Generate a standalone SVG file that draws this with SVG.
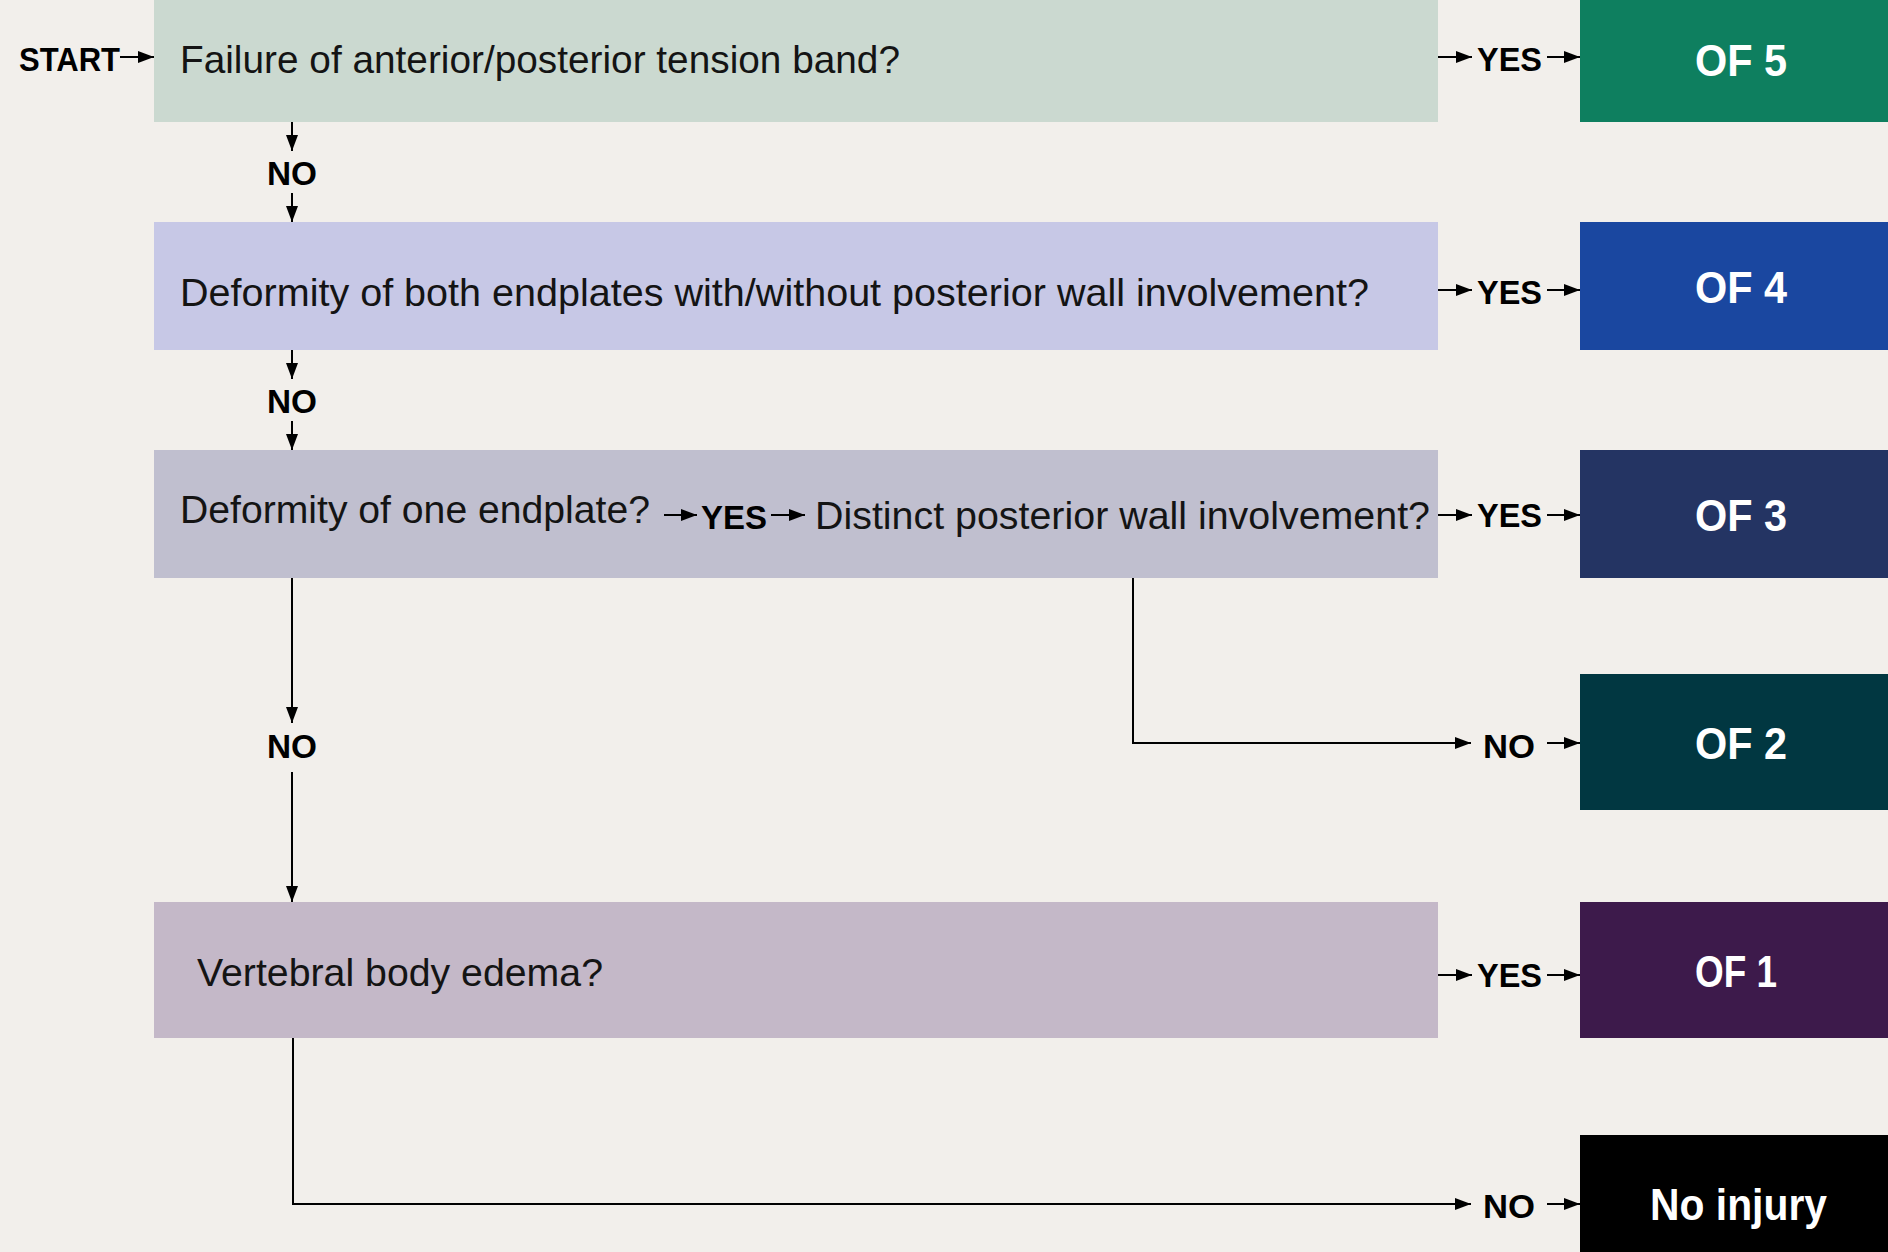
<svg xmlns="http://www.w3.org/2000/svg" width="1888" height="1252" viewBox="0 0 1888 1252">
  <style>
    .q { font-family: "Liberation Sans", Arial, sans-serif; font-size: 39px; fill: #141414; }
    .lbl { font-family: "Liberation Sans", Arial, sans-serif; font-size: 33px; font-weight: bold; fill: #000; }
    .res { font-family: "Liberation Sans", Arial, sans-serif; font-size: 45px; font-weight: bold; fill: #ffffff; }
    .conn { stroke: #000; stroke-width: 2; fill: none; }
  </style>
  <defs>
    <marker id="ah" markerUnits="userSpaceOnUse" markerWidth="16" markerHeight="12" refX="16" refY="6" orient="auto">
      <path d="M0,0 L16,6 L0,12 z" fill="#000"/>
    </marker>
  </defs>
  <rect x="0" y="0" width="1888" height="1252" fill="#F2EFEB"/>

  <g id="start">
    <text class="lbl" x="19" y="71" textLength="101" lengthAdjust="spacingAndGlyphs">START</text>
  </g>

  <g id="q1">
    <rect x="154" y="0" width="1284" height="122" fill="#CBD9D0"/>
    <text class="q" x="180" y="73" textLength="720" lengthAdjust="spacingAndGlyphs">Failure of anterior/posterior tension band?</text>
  </g>
  <g id="q2">
    <rect x="154" y="222" width="1284" height="128" fill="#C7C8E6"/>
    <text class="q" x="180" y="306" textLength="1189" lengthAdjust="spacingAndGlyphs">Deformity of both endplates with/without posterior wall involvement?</text>
  </g>
  <g id="q3">
    <rect x="154" y="450" width="1284" height="128" fill="#C0BFCF"/>
    <text class="q" x="180" y="523" textLength="470" lengthAdjust="spacingAndGlyphs">Deformity of one endplate?</text>
    <text class="lbl" x="701" y="529" textLength="66" lengthAdjust="spacingAndGlyphs">YES</text>
    <text class="q" x="815" y="529" textLength="615" lengthAdjust="spacingAndGlyphs">Distinct posterior wall involvement?</text>
  </g>
  <g id="q4">
    <rect x="154" y="902" width="1284" height="136" fill="#C4B8C8"/>
    <text class="q" x="197" y="986" textLength="406" lengthAdjust="spacingAndGlyphs">Vertebral body edema?</text>
  </g>

  <g id="of5">
    <rect x="1580" y="0" width="308" height="122" fill="#0E7F5F"/>
    <text class="res" x="1695" y="76" textLength="92" lengthAdjust="spacingAndGlyphs">OF 5</text>
  </g>
  <g id="of4">
    <rect x="1580" y="222" width="308" height="128" fill="#1A47A0"/>
    <text class="res" x="1695" y="303" textLength="92" lengthAdjust="spacingAndGlyphs">OF 4</text>
  </g>
  <g id="of3">
    <rect x="1580" y="450" width="308" height="128" fill="#243463"/>
    <text class="res" x="1695" y="531" textLength="92" lengthAdjust="spacingAndGlyphs">OF 3</text>
  </g>
  <g id="of2">
    <rect x="1580" y="674" width="308" height="136" fill="#013741"/>
    <text class="res" x="1695" y="759" textLength="92" lengthAdjust="spacingAndGlyphs">OF 2</text>
  </g>
  <g id="of1">
    <rect x="1580" y="902" width="308" height="136" fill="#3D1A4B"/>
    <text class="res" x="1695" y="987" textLength="82" lengthAdjust="spacingAndGlyphs">OF 1</text>
  </g>
  <g id="noinjury">
    <rect x="1580" y="1135" width="308" height="117" fill="#000000"/>
    <text class="res" x="1650" y="1220" font-size="42" textLength="177" lengthAdjust="spacingAndGlyphs">No injury</text>
  </g>

  <g id="labels">
    <text class="lbl" x="1477" y="71" textLength="65" lengthAdjust="spacingAndGlyphs">YES</text>
    <text class="lbl" x="1477" y="304" textLength="65" lengthAdjust="spacingAndGlyphs">YES</text>
    <text class="lbl" x="1477" y="527" textLength="65" lengthAdjust="spacingAndGlyphs">YES</text>
    <text class="lbl" x="1477" y="987" textLength="65" lengthAdjust="spacingAndGlyphs">YES</text>
    <text class="lbl" x="1483" y="758" textLength="52" lengthAdjust="spacingAndGlyphs">NO</text>
    <text class="lbl" x="1483" y="1218" textLength="52" lengthAdjust="spacingAndGlyphs">NO</text>
    <text class="lbl" x="267" y="185" textLength="50" lengthAdjust="spacingAndGlyphs">NO</text>
    <text class="lbl" x="267" y="413" textLength="50" lengthAdjust="spacingAndGlyphs">NO</text>
    <text class="lbl" x="267" y="758" textLength="50" lengthAdjust="spacingAndGlyphs">NO</text>
  </g>

  <g id="connectors">
    <path class="conn" d="M120,57 H154" marker-end="url(#ah)"/>
    <path class="conn" d="M1438,57 H1472" marker-end="url(#ah)"/>
    <path class="conn" d="M1547,57 H1580" marker-end="url(#ah)"/>
    <path class="conn" d="M1438,290 H1472" marker-end="url(#ah)"/>
    <path class="conn" d="M1547,290 H1580" marker-end="url(#ah)"/>
    <path class="conn" d="M1438,515 H1472" marker-end="url(#ah)"/>
    <path class="conn" d="M1547,515 H1580" marker-end="url(#ah)"/>
    <path class="conn" d="M1438,975 H1472" marker-end="url(#ah)"/>
    <path class="conn" d="M1547,975 H1580" marker-end="url(#ah)"/>
    <path class="conn" d="M664,515 H697" marker-end="url(#ah)"/>
    <path class="conn" d="M771,515 H805" marker-end="url(#ah)"/>
    <path class="conn" d="M292,122 V151" marker-end="url(#ah)"/>
    <path class="conn" d="M292,193 V222" marker-end="url(#ah)"/>
    <path class="conn" d="M292,350 V379" marker-end="url(#ah)"/>
    <path class="conn" d="M292,421 V450" marker-end="url(#ah)"/>
    <path class="conn" d="M292,578 V723" marker-end="url(#ah)"/>
    <path class="conn" d="M292,772 V902" marker-end="url(#ah)"/>
    <path class="conn" d="M1133,578 V743 H1471" marker-end="url(#ah)"/>
    <path class="conn" d="M1547,743 H1580" marker-end="url(#ah)"/>
    <path class="conn" d="M293,1038 V1204 H1471" marker-end="url(#ah)"/>
    <path class="conn" d="M1547,1204 H1580" marker-end="url(#ah)"/>
  </g>
</svg>
